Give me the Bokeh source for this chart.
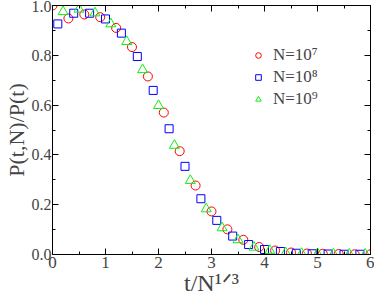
from bokeh.plotting import figure
from bokeh.models import (LinearAxis, Range1d, FixedTicker, PrintfTickFormatter,
                          Legend, LegendItem)
from bokeh.embed import file_html
from bokeh.resources import INLINE

# ---- data ----
x_n7 = [0.0, 0.3, 0.6, 0.9, 1.2, 1.5, 1.8, 2.1, 2.4, 2.7, 3.0, 3.3, 3.6, 3.9,
        4.2, 4.5, 4.8, 5.1, 5.4, 5.7, 6.0]
y_n7 = [1.0, 0.948, 0.964, 0.953, 0.91, 0.833, 0.715, 0.570, 0.415, 0.277,
        0.173, 0.101, 0.059, 0.030, 0.016, 0.008, 0.004, 0.003, 0.002, 0.001, 0.001]

x_n8 = [0.1, 0.4, 0.7, 1.0, 1.3, 1.6, 1.9, 2.2, 2.5, 2.8, 3.1, 3.4, 3.7, 4.0,
        4.3, 4.6, 4.9, 5.2, 5.5, 5.8]
y_n8 = [0.926, 0.969, 0.969, 0.946, 0.889, 0.795, 0.659, 0.505, 0.354, 0.224,
        0.137, 0.074, 0.040, 0.020, 0.012, 0.005, 0.003, 0.002, 0.001, 0.001]

x_n9 = [0.2, 0.5, 0.8, 1.1, 1.4, 1.7, 2.0, 2.3, 2.6, 2.9, 3.2, 3.5, 3.8, 4.1,
        4.4, 4.7, 5.0, 5.3, 5.6, 5.9]
y_n9 = [0.975, 0.985, 0.970, 0.926, 0.855, 0.742, 0.598, 0.438, 0.297, 0.183,
        0.107, 0.059, 0.029, 0.016, 0.007, 0.004, 0.003, 0.002, 0.001, 0.001]

labels = ["N=10\u2077", "N=10\u2078", "N=10\u2079"]
x_ticks = [0, 1, 2, 3, 4, 5, 6]
y_ticks = [0.0, 0.2, 0.4, 0.6, 0.8, 1.0]

FONT = "serif"

p = figure(width=374, height=299, output_backend="svg", toolbar_location=None,
           x_range=Range1d(0, 6), y_range=Range1d(0, 1),
           min_border_left=48, min_border_right=4, min_border_top=5,
           min_border_bottom=45)
p.grid.visible = False
p.outline_line_color = "black"
p.background_fill_color = "white"
p.border_fill_color = "white"

r1 = p.scatter(x_n7, y_n7, marker="circle", size=9, fill_color=None,
               line_color="#ff0000", line_width=1)
r2 = p.scatter(x_n8, y_n8, marker="square", size=8, fill_color=None,
               line_color="#0000ff", line_width=1)
r3 = p.scatter(x_n9, y_n9, marker="triangle", size=10, fill_color=None,
               line_color="#11ee11", line_width=1)


def style(ax, ticks, minor, show):
    ax.ticker = FixedTicker(ticks=ticks, minor_ticks=minor)
    ax.major_tick_in = 6
    ax.major_tick_out = 0
    ax.minor_tick_in = 3
    ax.minor_tick_out = 0
    ax.axis_line_color = "black"
    ax.major_tick_line_color = "black"
    ax.minor_tick_line_color = "black"
    ax.major_label_text_font = FONT
    ax.axis_label_text_font = FONT
    ax.axis_label_text_font_style = "normal"
    if not show:
        ax.major_label_overrides = {t: "" for t in ticks}
        ax.major_label_standoff = 0


x_minor = [0.5 * i for i in range(13)]
y_minor = [0.1 * i for i in range(11)]

xa = p.xaxis[0]
style(xa, x_ticks, x_minor, True)
xa.major_label_text_font_size = "17px"
xa.major_label_standoff = 2
xa.axis_label = "t/N\u00b9\u141f\u00b3"
xa.axis_label_text_font_size = "24px"
xa.axis_label_standoff = -1

ya = p.yaxis[0]
style(ya, y_ticks, y_minor, True)
ya.formatter = PrintfTickFormatter(format="%.1f")
ya.major_label_text_font_size = "16px"
ya.major_label_standoff = 1
ya.axis_label = "P(t,N)/P(t)"
ya.axis_label_text_font_size = "22px"
ya.axis_label_standoff = 0

top = LinearAxis()
style(top, x_ticks, x_minor, False)
p.add_layout(top, "above")
right = LinearAxis()
style(right, y_ticks, y_minor, False)
p.add_layout(right, "right")

legend = Legend(items=[LegendItem(label=labels[0], renderers=[r1]),
                       LegendItem(label=labels[1], renderers=[r2]),
                       LegendItem(label=labels[2], renderers=[r3])],
                location=(199, 145), padding=0, margin=0, spacing=2,
                glyph_width=14, glyph_height=20, label_height=20,
                label_standoff=8, border_line_color=None,
                background_fill_alpha=0, label_text_font=FONT,
                label_text_font_size="17px")
p.add_layout(legend)

open("out.html", "w").write(file_html(p, INLINE))
